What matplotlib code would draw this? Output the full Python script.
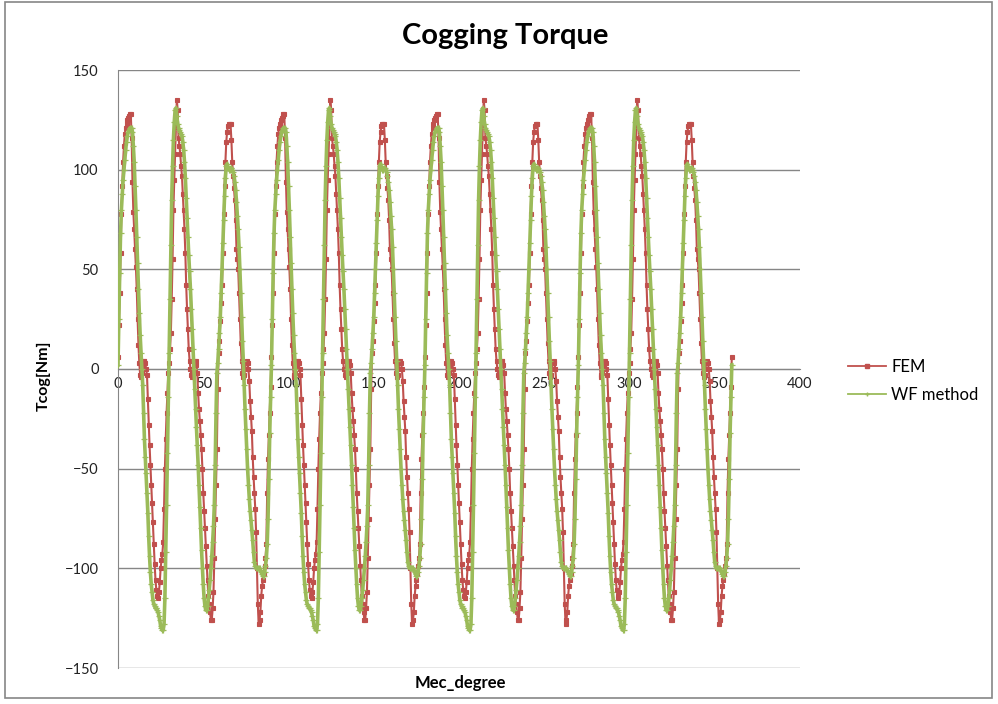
import numpy as np
import matplotlib
matplotlib.use("Agg")
import matplotlib.pyplot as plt
from matplotlib.lines import Line2D
from matplotlib.patches import Rectangle

# the torque repeats every 90 mechanical degrees; one period read off the
# chart, sampled every 0.5 deg (0 .. 89.5)
fem_period = [
    6, 22, 38, 58, 78, 92, 104, 112, 118, 121, 123, 125, 126, 127, 128, 128,
    116, 94, 79, 70, 60, 51, 40, 25, 12, 3, -3, -4, -2, 1, 4, 4, 3, 0, -3,
    -15, -28, -38, -48, -58, -67, -77, -88, -98, -106, -111, -114, -115,
    -112, -107, -100, -96, -93, -87, -70, -50, -35, -22, -12, -2,
    3, 10, 18, 35, 55, 80, 95, 108, 122, 135, 130, 116, 112, 108, 102, 97,
    88, 80, 70, 58, 42, 30, 20, 10, 4, 0, -3, -4, -1, 2, 4, 4, 2, -2, -12,
    -20, -26, -33, -40, -50, -62, -71, -80, -89, -99, -106, -114, -118,
    -122, -126, -126, -120, -112, -95, -75, -58, -40, -10, 8, 14,
    24, 33, 42, 58, 78, 92, 104, 114, 119, 122, 123, 123, 123, 115, 104, 97,
    91, 85, 75, 60, 55, 50, 38, 25, 13, 4, -2, -4, -3, 0, 3, 4, 3, 0, -6,
    -16, -24, -31, -44, -54, -62, -70, -82, -100, -118, -128, -126, -122,
    -114, -109, -106, -103, -99, -95, -88, -62, -45, -33, -22, -9,
]
wf_period = [
    2, 25, 48, 68, 80, 88, 95, 100, 105, 110, 114, 117, 119, 120, 121, 121,
    121, 119, 112, 104, 92, 80, 66, 53, 40, 28, 17, 8, 0, -8, -22, -35, -44,
    -52, -62, -72, -84, -94, -102, -108, -112, -116, -118, -119, -120, -120,
    -121, -122, -124, -126, -129, -130, -131, -131, -128, -115, -92, -68,
    -42, -14,
    8, 35, 62, 85, 102, 115, 124, 130, 131, 127, 123, 121, 120, 119, 118,
    117, 114, 110, 104, 96, 86, 76, 66, 57, 49, 40, 30, 20, 10, 0, -10, -20,
    -29, -38, -48, -58, -69, -80, -91, -100, -108, -115, -119, -121, -121,
    -119, -115, -111, -106, -100, -94, -87, -79, -68, -48, -22, -2, 3, 10, 18,
    26, 38, 50, 63, 75, 87, 96, 102, 103, 101, 100, 100, 101, 101, 100, 99,
    97, 94, 90, 84, 77, 70, 61, 50, 38, 26, 14, 4, -8, -20, -30, -40, -50,
    -58, -65, -71, -76, -81, -86, -92, -97, -99, -100, -100, -100, -100,
    -100, -101, -102, -103, -104, -104, -102, -99, -95, -88, -75, -55, -32,
    -14,
]
n_periods = 4
step = 0.5

fem = np.array(fem_period * n_periods + [fem_period[0]])
wf = np.array(wf_period * n_periods + [wf_period[0]])
angle = np.arange(len(fem)) * step

x_ticks = [0, 50, 100, 150, 200, 250, 300, 350, 400]
y_ticks = [-150, -100, -50, 0, 50, 100, 150]

plt.rcParams['font.family'] = ['Lato', 'DejaVu Sans']

W, H = 998, 704
fig = plt.figure(figsize=(W / 100, H / 100), dpi=100)
ax = fig.add_axes([118 / W, 1 - 668 / H, (800 - 118) / W, (668 - 70) / H])

grid = '#868686'
red, green = '#C0504D', '#9BBB59'
ax.plot(angle, fem, '-s', color=red, lw=1.5, ms=2.8, mew=0.8, zorder=3)
ax.plot(angle, wf, '-+', color=green, lw=2.6, ms=4, mew=0.9, zorder=4)

ax.set_xlim(0, 400)
ax.set_ylim(-150, 150)
ax.set_xticks(x_ticks)
ax.set_yticks(y_ticks)
ax.yaxis.grid(True, color=grid, lw=1)
ax.set_axisbelow(True)
ax.spines['bottom'].set_position(('data', 0))
ax.spines['bottom'].set_color(grid)
ax.spines['left'].set_color(grid)
ax.spines['top'].set_visible(False)
ax.spines['right'].set_visible(False)
ax.tick_params(axis='both', length=0, labelsize=10.5, colors='#222222')
ax.tick_params(axis='y', pad=14)
ax.tick_params(axis='x', pad=6)

fig.text(505 / W, 1 - 36 / H, 'Cogging Torque', ha='center', va='center',
         fontsize=21, fontweight='bold')
fig.text(460 / W, 1 - 683 / H, 'Mec_degree', ha='center', va='center',
         fontsize=12, fontweight='bold')
fig.text(44 / W, 1 - 376 / H, 'Tcog[Nm]', ha='center', va='center',
         fontsize=11.5, fontweight='bold', rotation=90)

handles = [
    Line2D([], [], color=red, lw=1.3, marker='s', ms=2.8),
    Line2D([], [], color=green, lw=1.3, marker='+', ms=3),
]
ax.legend(handles, ['FEM', 'WF method'], loc='center left',
          bbox_to_anchor=(833 / W, 1 - 381 / H),
          bbox_transform=fig.transFigure, frameon=False, fontsize=12,
          handlelength=2.3, labelspacing=0.7, handletextpad=0.3)

fig.patches.append(Rectangle((5 / W, 6 / H), 987 / W, 696 / H,
                             transform=fig.transFigure, fill=False,
                             edgecolor=grid, lw=1.2))

fig.savefig('out.png', dpi=100)
